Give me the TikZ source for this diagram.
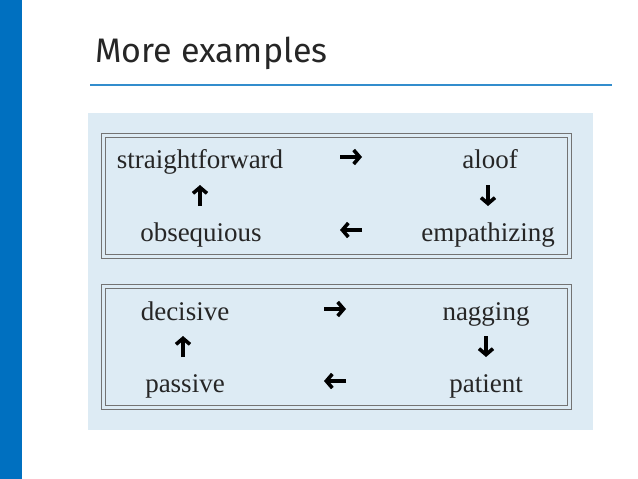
\documentclass[tikz,border=0pt]{standalone}
\usepackage{fontspec}
\setmainfont{Liberation Serif}
\newfontfamily\titlefont{Fira Sans}
\usetikzlibrary{arrows.meta}
\definecolor{barblue}{HTML}{0070C0}
\definecolor{panel}{HTML}{DDEBF4}
\begin{document}
\begin{tikzpicture}[x=1pt,y=-1pt,
  word/.style={font=\fontsize{27}{30}\selectfont,text=black!85,anchor=base},
  arr/.style={line width=3.6pt,-{Straight Barb[length=6pt,width=14pt]}},
  frame/.style={draw=black!55,line width=1pt}]
\useasboundingbox (0,0) rectangle (638,479);
\fill[barblue] (0,0) rectangle (22,479);
\node[anchor=base west,font=\titlefont\fontsize{34}{36}\selectfont,text=black!85,inner sep=0] (title) at (95,62) {More examples};
\draw[barblue!80,line width=1.5pt] (90,85) -- (612,85);
\fill[panel] (88,113) rectangle (593,430);

% first box
\draw[frame] (101,133) rectangle (571,258);
\draw[frame] (105,137) rectangle (567,254);
\node[word] (sf) at (200,168) {straightforward};
\node[word] (al) at (490,168) {aloof};
\node[word] (ob) at (201,241) {obsequious};
\node[word] (em) at (488,241) {empathizing};
\coordinate (r1a) at (340,157); \coordinate (r1b) at (362,157);
\coordinate (l1a) at (362,230); \coordinate (l1b) at (340,230);
\coordinate (u1a) at (200,206); \coordinate (u1b) at (200,185);
\coordinate (d1a) at (488,185); \coordinate (d1b) at (488,206);
\draw[arr] (r1a) -- (r1b);
\draw[arr] (l1a) -- (l1b);
\draw[arr] (u1a) -- (u1b);
\draw[arr] (d1a) -- (d1b);

% second box
\draw[frame] (101,284) rectangle (571,409);
\draw[frame] (105,288) rectangle (567,405);
\node[word] (de) at (185,320) {decisive};
\node[word] (na) at (486,320) {nagging};
\node[word] (pa) at (185,392) {passive};
\node[word] (pt) at (486,392) {patient};
\coordinate (r2a) at (324,309); \coordinate (r2b) at (346,309);
\coordinate (l2a) at (346,381); \coordinate (l2b) at (324,381);
\coordinate (u2a) at (183,357); \coordinate (u2b) at (183,336);
\coordinate (d2a) at (486,336); \coordinate (d2b) at (486,357);
\draw[arr] (r2a) -- (r2b);
\draw[arr] (l2a) -- (l2b);
\draw[arr] (u2a) -- (u2b);
\draw[arr] (d2a) -- (d2b);
\end{tikzpicture}
\end{document}
